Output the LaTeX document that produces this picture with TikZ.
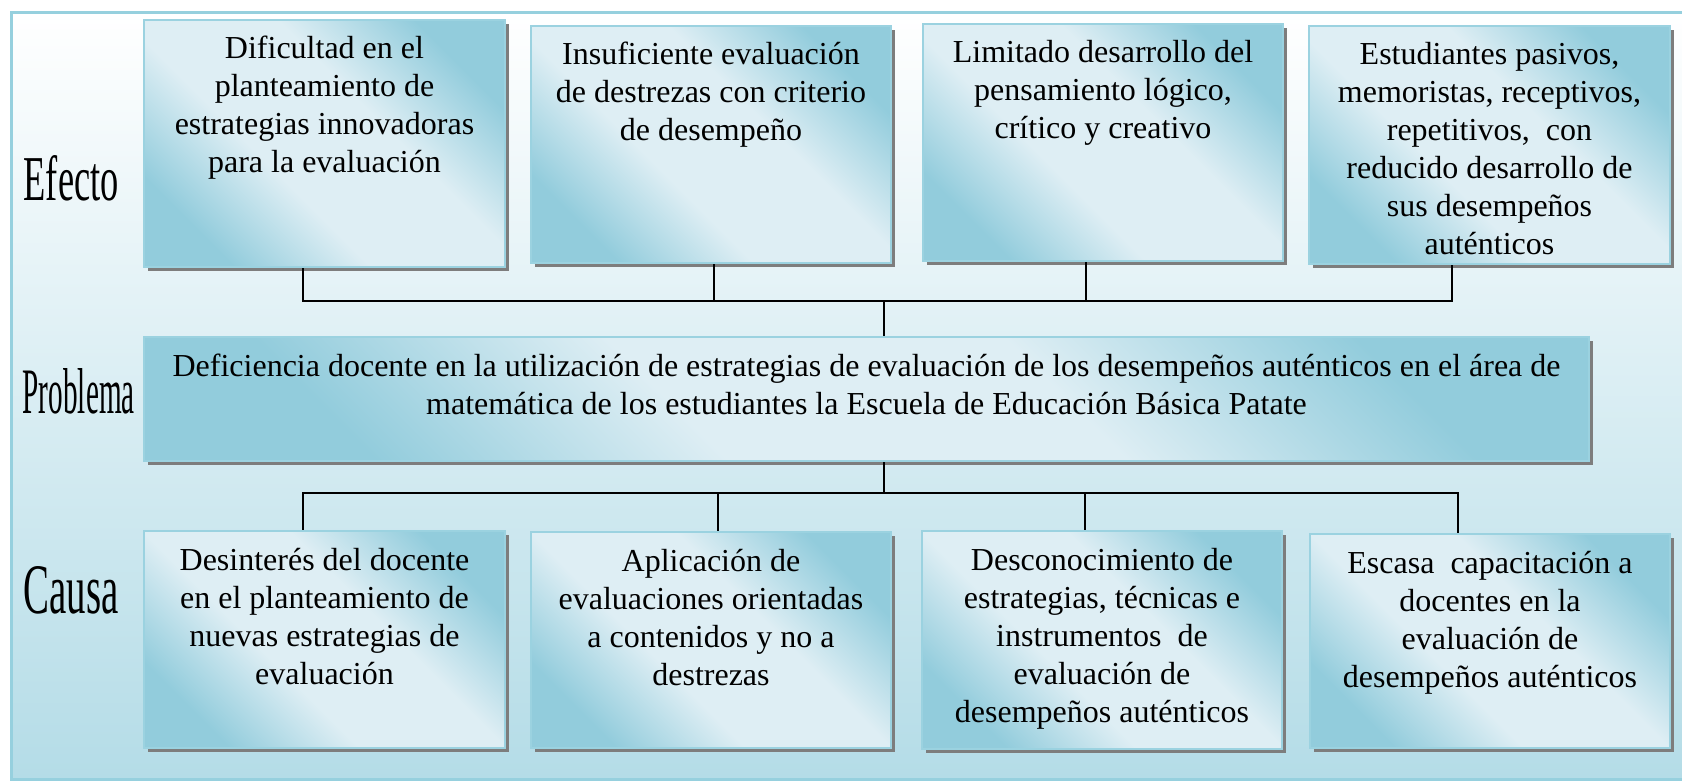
\documentclass[tikz,border=0pt]{standalone}
\usepackage{graphicx}
\usepackage{fontspec}
\setmainfont{Liberation Serif}
\usetikzlibrary{shadows}

\definecolor{fondoabajo}{RGB}{180,220,231}
\definecolor{marco}{RGB}{150,208,222}
\definecolor{cajaclara}{RGB}{222,238,244}
\definecolor{cajaoscura}{RGB}{146,204,220}
\definecolor{bordecaja}{RGB}{155,210,224}
\definecolor{sombra}{RGB}{125,125,125}

\pgfdeclarehorizontalshading{diagcaja}{100bp}{color(0bp)=(cajaoscura); color(25bp)=(cajaoscura); color(41bp)=(cajaclara); color(59bp)=(cajaclara); color(75bp)=(cajaoscura); color(100bp)=(cajaoscura)}

\tikzset{every picture/.style={line width=0.75pt}}
\tikzset{
	caja/.style={draw=bordecaja, line width=1pt, shading=diagcaja, shading angle=45, drop shadow={shadow xshift=2pt, shadow yshift=-2pt, fill=sombra, opacity=1}, inner sep=0pt, anchor=north west},
	rotulo/.style={inner sep=0pt, anchor=south west},
	enlace/.style={line width=1pt, color=black}
}
% texto arriba y centrado dentro de cada caja
\newcommand{\textocaja}[3]{\parbox[t][#2][t]{#1}{\centering\fontsize{16}{19}\selectfont\rule{0pt}{19.5pt}#3}}

\begin{document}
\begin{tikzpicture}[x=0.5pt,y=0.5pt,yscale=-1,xscale=1]
		\useasboundingbox (0,0) rectangle (1682,781);
		
		%Fondo y marco
		\fill[top color=white, bottom color=fondoabajo] (11,13) rectangle (1682,779);
		\draw[marco, line width=1.5pt] (1682,13) -- (11,13) -- (11,779) -- (1682,779);
		
		%Efectos
		\node[caja] (ef1) at (143,19) {\textocaja{180.5pt}{123.5pt}{Dificultad en el\\planteamiento de\\estrategias innovadoras\\para la evaluación}};
		\node[caja] (ef2) at (530,25) {\textocaja{180pt}{118.5pt}{Insuficiente evaluación\\de destrezas con criterio\\de desempeño}};
		\node[caja] (ef3) at (922,23) {\textocaja{180pt}{118.5pt}{Limitado desarrollo del\\pensamiento lógico,\\crítico y creativo}};
		\node[caja] (ef4) at (1308,25) {\textocaja{180.5pt}{119pt}{Estudiantes pasivos,\\memoristas, receptivos,\\repetitivos, \ con\\reducido desarrollo de\\sus desempeños\\auténticos}};
		
		%Problema
		\node[caja] (prob) at (143,336) {\textocaja{722.5pt}{62pt}{Deficiencia docente en la utilización de estrategias de evaluación de los desempeños auténticos en el área de\\matemática de los estudiantes la Escuela de Educación Básica Patate}};
		
		%Causas
		\node[caja] (ca1) at (143,530) {\textocaja{180.5pt}{108.5pt}{Desinterés del docente\\en el planteamiento de\\nuevas estrategias de\\evaluación}};
		\node[caja] (ca2) at (530,531) {\textocaja{180pt}{108pt}{Aplicación de\\evaluaciones orientadas\\a contenidos y no a\\destrezas}};
		\node[caja] (ca3) at (921,530) {\textocaja{180pt}{109pt}{Desconocimiento de\\estrategias, técnicas e\\instrumentos \ de\\evaluación de\\desempeños auténticos}};
		\node[caja] (ca4) at (1309,533) {\textocaja{180pt}{107pt}{Escasa \ capacitación a\\docentes en la\\evaluación de\\desempeños auténticos}};
		
		%Rotulos
		\node[rotulo] (efecto) at (23,202) {\resizebox{47.5pt}{22.5pt}{Efecto}};
		\node[rotulo] (problema) at (22,415) {\resizebox{56pt}{22.5pt}{Problema}};
		\node[rotulo] (causa) at (23,615) {\resizebox{47.5pt}{23.5pt}{Causa}};
		
		%Conectores
		\coordinate (jarriba) at (884,301);
		\coordinate (jabajo) at (884,493);
		\draw[enlace] ([xshift=-10.75pt]ef1.south) |- (jarriba);
		\draw[enlace] ([xshift=1.5pt]ef2.south) |- (jarriba);
		\draw[enlace] ([xshift=-8.5pt]ef3.south) |- (jarriba);
		\draw[enlace] ([xshift=-18.75pt]ef4.south) |- (jarriba);
		\draw[enlace] (jarriba) -- (prob.north -| jarriba);
		\draw[enlace] (prob.south -| jabajo) -- (jabajo);
		\draw[enlace] (jabajo) -| ([xshift=-10.75pt]ca1.north);
		\draw[enlace] (jabajo) -| ([xshift=3.5pt]ca2.north);
		\draw[enlace] (jabajo) -| ([xshift=-8.5pt]ca3.north);
		\draw[enlace] (jabajo) -| ([xshift=-16pt]ca4.north);
		
\end{tikzpicture}
\end{document}
